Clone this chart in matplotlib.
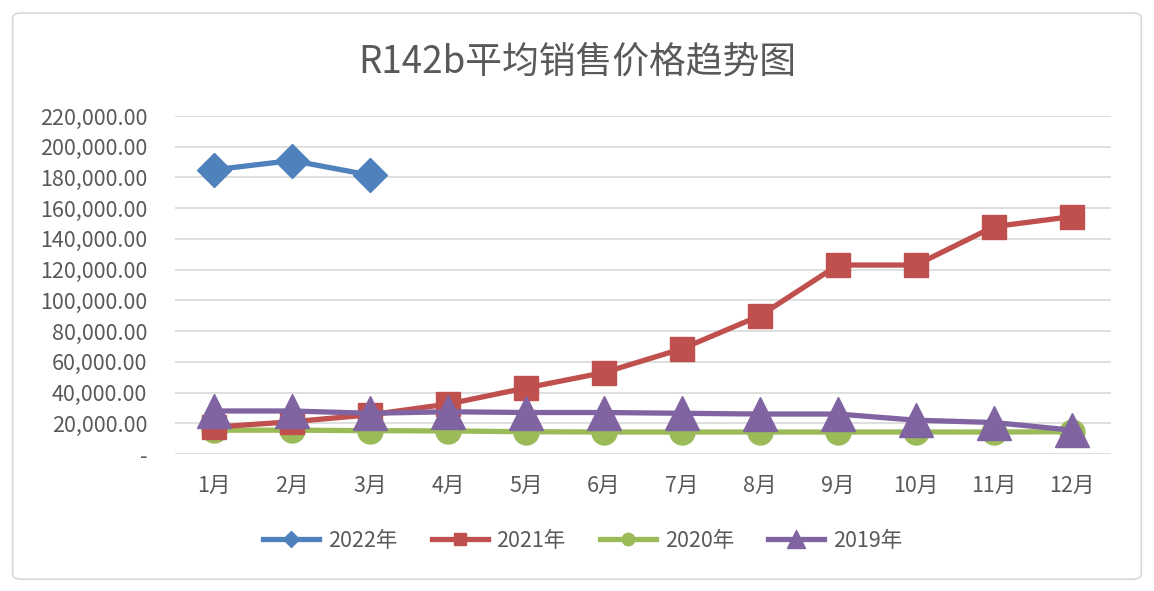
import matplotlib
matplotlib.use('Agg')
from matplotlib import pyplot as plt
from matplotlib.patches import FancyBboxPatch
import numpy as np

plt.rcParams['font.family'] = ['Noto Sans CJK SC', 'DejaVu Sans']

months = ['1月', '2月', '3月', '4月', '5月', '6月', '7月', '8月', '9月', '10月', '11月', '12月']
price_2022 = [185000, 191000, 181500]
price_2021 = [17500, 21000, 25500, 32500, 43000, 53000, 68500, 90000, 123000, 123000, 148000, 154500]
price_2020 = [15500, 15500, 15200, 15000, 14500, 14300, 14300, 14300, 14300, 14300, 14300, 14500]
price_2019 = [28000, 28000, 26500, 27500, 27000, 27000, 26500, 26000, 26000, 22000, 20500, 15500]

text_color = '#595959'

fig = plt.figure(figsize=(11.54, 5.91), dpi=100)
# outer frame
fig.patches.append(FancyBboxPatch((0.011, 0.02), 0.978, 0.958,
                                  boxstyle='round,pad=0,rounding_size=0.008',
                                  transform=fig.transFigure, facecolor='white',
                                  edgecolor='#D9D9D9', linewidth=1.2, zorder=-1))

ax = fig.add_axes([175 / 1154, 1 - 454 / 591, (1111 - 175) / 1154, (454 - 116) / 591])
ax.set_zorder(2)
ax.patch.set_visible(False)
x = np.arange(len(months))

ax.plot(x[:len(price_2022)], price_2022, color='#4F81BD', lw=3.8, marker='D', ms=17, label='2022年', zorder=5)
ax.plot(x, price_2021, color='#C0504D', lw=3.8, marker='s', ms=17, label='2021年', zorder=3)
ax.plot(x, price_2020, color='#9BBB59', lw=3.8, marker='o', ms=18, label='2020年', zorder=2)
ax.plot(x, price_2019, color='#8064A2', lw=3.8, marker='^', ms=25, label='2019年', zorder=4)

ax.set_xlim(-0.5, 11.5)
ax.set_ylim(0, 220000)
ax.set_yticks(np.arange(0, 220001, 20000))
ax.set_yticklabels(['-'] + [f'{v:,.2f}' for v in np.arange(20000, 220001, 20000)])
ax.set_xticks(x)
ax.set_xticklabels(months)
ax.grid(axis='y', color='#D9D9D9', lw=1.2)
ax.set_axisbelow(True)
for s in ax.spines.values():
    s.set_visible(False)
ax.tick_params(length=0, labelsize=15.5, colors=text_color)
ax.tick_params(axis='y', pad=20)
ax.tick_params(axis='x', pad=15)

fig.text(0.5, 1 - 62 / 591, 'R142b平均销售价格趋势图', ha='center', va='center',
         fontsize=26.5, color=text_color)

leg = fig.legend(loc='center', bbox_to_anchor=(0.505, 1 - 541 / 591), ncol=4, frameon=False,
                 fontsize=15.5, labelcolor=text_color, handlelength=2.6, columnspacing=1.6,
                 handletextpad=0.4, markerscale=0.5)

fig.savefig('out.png', dpi=100)
